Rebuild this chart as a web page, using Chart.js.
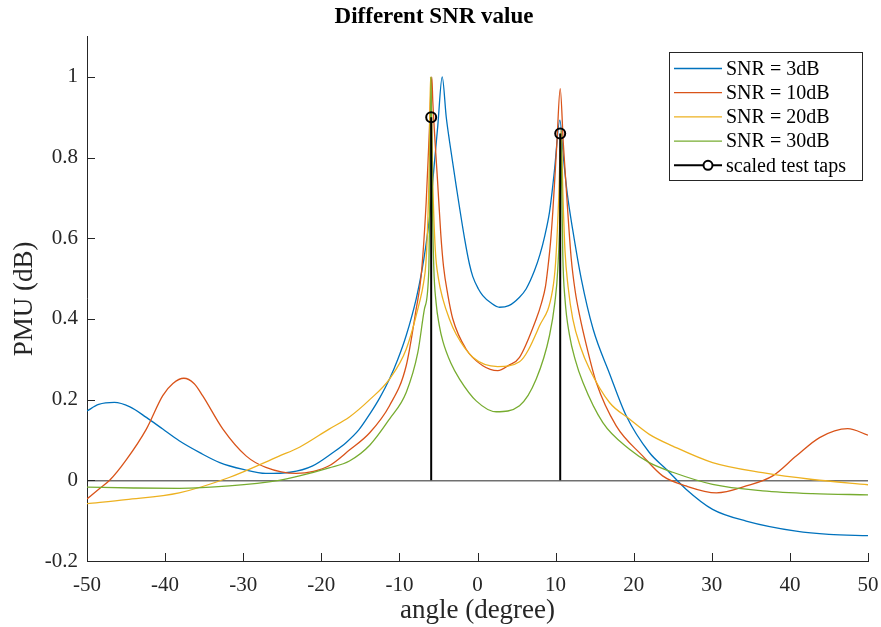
<!DOCTYPE html>
<html>
<head>
<meta charset="utf-8">
<script src="https://cdn.jsdelivr.net/npm/chart.js@4.4.0/dist/chart.umd.min.js"></script>
<style>
  html, body { margin: 0; padding: 0; background: #fff; }
</style>
</head>
<body>
<canvas id="snrChart" width="881" height="627"></canvas>
<script>
// values (angle in degrees, PMU)
const angles3 = [-50, -48.5, -46.5, -44.5, -42.4, -40.3, -38.2, -35.5, -33, -30, -27.1, -24, -21.1, -18.5, -16.8, -15.2, -13.8, -12.5, -11.27, -10.2, -9.13, -7.85, -7.08, -6.7, -6.1, -5.55, -5.08, -4.52, -4.0, -3.58, -2.73, -1.66, -1.02, -0.6, 0.1, 0.68, 1.7, 2.82, 4.0, 5.38, 6.24, 7.3, 8.0, 8.6, 9.22, 9.55, 9.86, 10.55, 11.0, 11.5, 12.2, 13.28, 14.8, 16.9, 19.04, 22.0, 24.2, 26.7, 30.1, 34.4, 40.8, 45, 50];
const pmu3 = [0.172, 0.188, 0.193, 0.182, 0.156, 0.127, 0.098, 0.068, 0.044, 0.027, 0.017, 0.020, 0.036, 0.069, 0.094, 0.125, 0.164, 0.205, 0.251, 0.300, 0.359, 0.450, 0.524, 0.570, 0.660, 0.780, 0.880, 1.000, 0.900, 0.840, 0.730, 0.600, 0.535, 0.505, 0.475, 0.458, 0.440, 0.429, 0.433, 0.454, 0.475, 0.520, 0.560, 0.605, 0.665, 0.715, 0.770, 0.893, 0.800, 0.710, 0.620, 0.500, 0.375, 0.265, 0.160, 0.069, 0.027, -0.022, -0.072, -0.101, -0.126, -0.134, -0.137];

const angles10 = [-50, -48.5, -47.1, -45, -42.4, -40.3, -39, -37.6, -36.3, -35.2, -32.6, -29.6, -27.1, -23.2, -21, -19, -16.4, -13.8, -11.27, -9.13, -7.85, -7.2, -6.57, -6.2, -5.85, -5.72, -5.08, -4.7, -4.35, -3.8, -3.16, -1.45, 0.68, 2.6, 4.0, 5.38, 7.52, 8.2, 8.7, 9.0, 9.35, 9.64, 10.15, 10.59, 11.0, 11.56, 12.0, 12.5, 13.06, 14.0, 15.2, 17.76, 21.17, 23.7, 26.7, 30.6, 34.4, 37.8, 40.8, 43.8, 47.4, 50];
const pmu10 = [-0.046, -0.022, 0.000, 0.050, 0.127, 0.210, 0.240, 0.253, 0.240, 0.210, 0.127, 0.060, 0.032, 0.017, 0.022, 0.036, 0.075, 0.118, 0.185, 0.284, 0.425, 0.510, 0.690, 0.850, 1.000, 0.938, 0.731, 0.610, 0.530, 0.460, 0.400, 0.325, 0.284, 0.272, 0.285, 0.305, 0.400, 0.440, 0.480, 0.525, 0.590, 0.665, 0.831, 0.971, 0.831, 0.665, 0.550, 0.470, 0.410, 0.330, 0.243, 0.135, 0.060, 0.011, -0.014, -0.031, -0.014, 0.011, 0.060, 0.106, 0.128, 0.112];

const angles20 = [-50, -45, -38.2, -31.8, -25.4, -22.8, -19, -16.4, -13.8, -11.27, -9.13, -7.43, -6.9, -6.6, -6.35, -6.18, -6.02, -5.7, -5.4, -5.0, -4.44, -3.6, -2.73, -0.6, 2.6, 5.38, 7.94, 9.6, 10.0, 10.4, 10.7, 10.95, 11.2, 11.6, 12.2, 13.2, 14.34, 16.9, 19.46, 22.0, 25, 30.1, 36.5, 42.9, 50];
const pmu20 = [-0.058, -0.048, -0.031, 0.007, 0.060, 0.082, 0.127, 0.157, 0.200, 0.251, 0.325, 0.441, 0.490, 0.540, 0.650, 0.780, 1.000, 0.720, 0.570, 0.500, 0.450, 0.400, 0.362, 0.305, 0.282, 0.294, 0.383, 0.470, 0.540, 0.700, 0.870, 0.700, 0.570, 0.480, 0.400, 0.330, 0.276, 0.193, 0.152, 0.114, 0.085, 0.044, 0.019, 0.002, -0.011];

const angles30 = [-50, -44, -38.2, -31.8, -25.4, -22.8, -19, -16.4, -13.8, -11.27, -9.13, -7.64, -6.79, -6.23, -6.1, -5.95, -5.8, -5.6, -5.3, -4.9, -4.44, -3.4, -2.3, -0.17, 2.4, 5.38, 7.52, 9.22, 9.9, 10.28, 10.6, 10.7, 10.8, 10.92, 11.2, 11.78, 12.5, 13.49, 16.05, 19.46, 22.0, 25, 30.1, 36.5, 42.9, 50];
const pmu30 = [-0.017, -0.019, -0.020, -0.014, 0.000, 0.011, 0.031, 0.048, 0.087, 0.152, 0.218, 0.317, 0.425, 0.524, 0.700, 1.000, 0.720, 0.530, 0.440, 0.385, 0.345, 0.290, 0.251, 0.197, 0.170, 0.185, 0.251, 0.359, 0.440, 0.524, 0.700, 0.860, 0.720, 0.560, 0.450, 0.360, 0.300, 0.243, 0.143, 0.077, 0.044, 0.020, -0.010, -0.026, -0.033, -0.036];

const tapAngles = [-5.93, 10.59];
const tapHeights = [0.9, 0.86];

const xTicks = [-50, -40, -30, -20, -10, 0, 10, 20, 30, 40, 50];
const yTicks = [-0.2, 0, 0.2, 0.4, 0.6, 0.8, 1];

const seriesLabels = ['SNR = 3dB', 'SNR = 10dB', 'SNR = 20dB', 'SNR = 30dB', 'scaled test taps'];
const seriesColors = ['#0072BD', '#D95319', '#EDB120', '#77AC30', '#000000'];

const toPoints = (xs, ys) => xs.map((x, i) => ({x: x, y: ys[i]}));

// stems: go up from 0 to the tap height, break, next stem
const stemPoints = [];
tapAngles.forEach((a, i) => {
  if (i > 0) stemPoints.push({x: a, y: null});
  stemPoints.push({x: a, y: 0});
  stemPoints.push({x: a, y: tapHeights[i], tip: true});
});

const FONT = 'Liberation Serif';

function curve(idx, xs, ys, order) {
  return {
    label: seriesLabels[idx],
    data: toPoints(xs, ys),
    borderColor: seriesColors[idx],
    borderWidth: 1.3,
    pointRadius: 0,
    cubicInterpolationMode: 'monotone',
    order: order
  };
}

// inward tick marks, like the original
const inwardTicks = {
  id: 'inwardTicks',
  afterDatasetsDraw(chart) {
    const {ctx, chartArea, scales} = chart;
    ctx.save();
    ctx.strokeStyle = '#262626';
    ctx.lineWidth = 1;
    ctx.beginPath();
    xTicks.forEach(v => {
      const px = Math.round(scales.x.getPixelForValue(v)) + 0.5;
      ctx.moveTo(px, chartArea.bottom);
      ctx.lineTo(px, chartArea.bottom - 8);
    });
    yTicks.forEach(v => {
      const py = Math.round(scales.y.getPixelForValue(v)) + 0.5;
      ctx.moveTo(chartArea.left, py);
      ctx.lineTo(chartArea.left + 8, py);
    });
    ctx.stroke();
    ctx.restore();
  }
};

// boxed legend in the top right corner
const boxLegend = {
  id: 'boxLegend',
  afterDraw(chart) {
    const ctx = chart.ctx;
    const left = 669.5, top = 52.5, w = 193, h = 128;
    ctx.save();
    ctx.fillStyle = '#ffffff';
    ctx.fillRect(left, top, w, h);
    ctx.strokeStyle = '#262626';
    ctx.lineWidth = 1;
    ctx.strokeRect(left, top, w, h);
    ctx.font = '20px "' + FONT + '"';
    ctx.textBaseline = 'middle';
    ctx.textAlign = 'left';
    chart.data.datasets.forEach((ds, i) => {
      const y = 68.5 + i * 24.2;
      ctx.strokeStyle = ds.borderColor;
      ctx.lineWidth = i === 4 ? 2 : 1.3;
      ctx.beginPath();
      ctx.moveTo(674, y);
      ctx.lineTo(722, y);
      ctx.stroke();
      if (i === 4) {
        ctx.fillStyle = '#ffffff';
        ctx.beginPath();
        ctx.arc(708, y, 4.5, 0, Math.PI * 2);
        ctx.fill();
        ctx.stroke();
      }
      ctx.fillStyle = '#000000';
      ctx.fillText(ds.label, 726, y + 1);
    });
    ctx.restore();
  }
};

const ctx = document.getElementById('snrChart').getContext('2d');
const chart = new Chart(ctx, {
  type: 'line',
  data: {
    datasets: [
      curve(0, angles3, pmu3, 4),
      curve(1, angles10, pmu10, 3),
      curve(2, angles20, pmu20, 2),
      curve(3, angles30, pmu30, 1),
      {
        label: seriesLabels[4],
        data: stemPoints,
        borderColor: seriesColors[4],
        borderWidth: 2,
        spanGaps: false,
        pointStyle: 'circle',
        pointRadius: c => (c.raw && c.raw.tip ? 5 : 0),
        pointBackgroundColor: 'rgba(0,0,0,0)',
        pointBorderColor: '#000000',
        pointBorderWidth: 2,
        order: 0
      }
    ]
  },
  options: {
    responsive: false,
    animation: false,
    devicePixelRatio: 1,
    layout: { padding: { left: 0, right: 13, top: 0, bottom: 0 } },
    scales: {
      x: {
        type: 'linear',
        min: -50,
        max: 50,
        afterBuildTicks: s => { s.ticks = xTicks.map(v => ({value: v})); },
        afterFit: s => { s.height = 66; s.paddingLeft = 0; s.paddingRight = 0; },
        grid: { display: false, drawTicks: false },
        border: { display: true, color: '#262626', width: 1 },
        ticks: {
          color: '#262626',
          padding: 12,
          maxRotation: 0,
          font: { family: FONT, size: 21 }
        },
        title: {
          display: true,
          text: 'angle (degree)',
          color: '#262626',
          font: { family: FONT, size: 27 },
          padding: { top: 0, bottom: 0 }
        }
      },
      y: {
        type: 'linear',
        min: -0.2,
        max: 1.1,
        afterBuildTicks: s => { s.ticks = yTicks.map(v => ({value: v})); },
        afterFit: s => { s.width = 87; },
        grid: {
          drawTicks: false,
          color: c => (c.tick && c.tick.value === 0 ? '#707070' : 'rgba(0,0,0,0)'),
          lineWidth: 1.5
        },
        border: { display: true, color: '#262626', width: 1 },
        ticks: {
          color: '#262626',
          padding: 9,
          font: { family: FONT, size: 21 },
          callback: v => String(Number(v.toFixed(1)))
        },
        title: {
          display: true,
          text: 'PMU (dB)',
          color: '#262626',
          font: { family: FONT, size: 27 },
          padding: { top: 9, bottom: 0 }
        }
      }
    },
    plugins: {
      legend: { display: false },
      tooltip: { enabled: false },
      title: {
        display: true,
        text: 'Different SNR value',
        color: '#000000',
        font: { family: FONT, size: 23, weight: 'bold' },
        padding: { top: 3, bottom: 6 }
      }
    }
  },
  plugins: [inwardTicks, boxLegend]
});
</script>
</body>
</html>
